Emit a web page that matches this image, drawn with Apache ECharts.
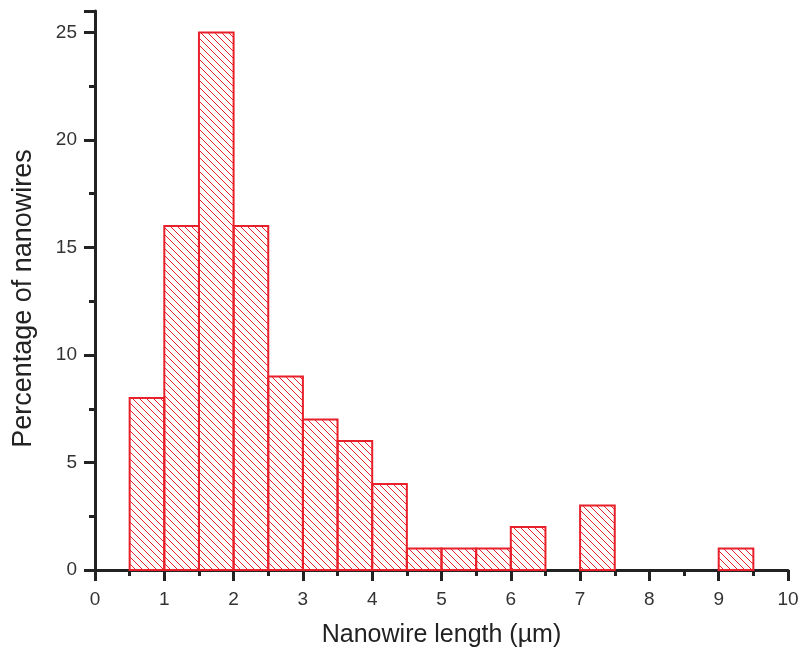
<!DOCTYPE html>
<html><head><meta charset="utf-8">
<script src="https://cdn.jsdelivr.net/npm/echarts@6/dist/echarts.min.js"></script>
<style>html,body{margin:0;padding:0;background:#fff}#c{width:801px;height:651px}</style>
</head><body><div id="c"></div>
<script>
const binStarts = [0.5, 1.0, 1.5, 2.0, 2.5, 3.0, 3.5, 4.0, 4.5, 5.0, 5.5, 6.0, 7.0, 9.0];
const percentages = [8, 16, 25, 16, 9, 7, 6, 4, 1, 1, 1, 2, 3, 1];
const binWidth = 0.5;
const xTicks = [0,1,2,3,4,5,6,7,8,9,10];
const yTicks = [0,5,10,15,20,25];

const RED = '#e8202a';
const tile = document.createElement('canvas');
const T = 7;
tile.width = T; tile.height = T;
const g = tile.getContext('2d');
g.strokeStyle = RED; g.lineWidth = 1;
for (const o of [-T, 0, T]) {
  g.beginPath(); g.moveTo(o, 0); g.lineTo(o + T, T); g.stroke();
}

const data = binStarts.map((s, i) => [s, s + binWidth, percentages[i]]);
const chart = echarts.init(document.getElementById('c'), null, {renderer: 'canvas'});
const font = 'Liberation Sans, Arial, sans-serif';
const INK = '#222';
chart.setOption({
  animation: false,
  grid: {left: 95, right: 13, top: 11, bottom: 81, containLabel: false, outerBoundsMode: 'none'},
  xAxis: {
    type: 'value', min: 0, max: 10, interval: 1,
    name: 'Nanowire length (µm)', nameLocation: 'middle', nameGap: 53,
    nameTextStyle: {fontFamily: font, fontSize: 25, color: INK},
    axisLine: {lineStyle: {color: INK, width: 3}},
    axisTick: {show: true, inside: false, length: 11, lineStyle: {width: 3, color: INK}},
    minorTick: {show: true, splitNumber: 2, length: 6, lineStyle: {width: 3, color: INK}},
    axisLabel: {fontFamily: font, fontSize: 19, color: '#333', margin: 20,
      formatter: v => xTicks.includes(v) ? String(v) : ''},
    splitLine: {show: false}
  },
  yAxis: {
    type: 'value', min: 0, max: 26, interval: 5,
    name: 'Percentage of nanowires', nameLocation: 'middle', nameGap: 58,
    nameTextStyle: {fontFamily: font, fontSize: 27, color: INK, padding: [0, 16, 0, 0]},
    axisLine: {show: true, lineStyle: {color: INK, width: 3}},
    axisTick: {show: true, inside: false, length: 11, lineStyle: {width: 3, color: INK}},
    minorTick: {show: true, splitNumber: 2, length: 6, lineStyle: {width: 3, color: INK}},
    axisLabel: {fontFamily: font, fontSize: 19, color: '#333', margin: 18, showMaxLabel: false,
      formatter: v => yTicks.includes(v) ? String(v) : ''},
    splitLine: {show: false}
  },
  series: [{
    type: 'custom',
    data: data,
    encode: {x: [0, 1], y: 2},
    renderItem: function (params, api) {
      const p0 = api.coord([api.value(0), 0]);
      const p1 = api.coord([api.value(1), api.value(2)]);
      return {
        type: 'rect',
        shape: {x: p0[0], y: p1[1], width: p1[0] - p0[0], height: p0[1] - p1[1]},
        style: {fill: {image: tile, repeat: 'repeat'}, stroke: RED, lineWidth: 2}
      };
    }
  }]
});
</script></body></html>
